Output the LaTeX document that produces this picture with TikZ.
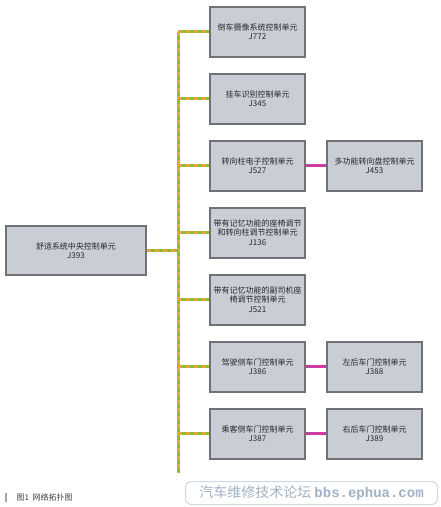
\documentclass[tikz,border=0pt]{standalone}
\usepackage{fontspec}
\setmainfont{Noto Sans CJK SC}
\newfontfamily\markfont{Liberation Mono}
\usetikzlibrary{positioning,shadows}
\definecolor{boxfill}{RGB}{201,206,214}
\definecolor{boxline}{RGB}{112,114,118}
\definecolor{busgreen}{RGB}{140,190,40}
\definecolor{busorange}{RGB}{225,165,70}
\definecolor{linkpink}{RGB}{205,60,165}
\definecolor{markblue}{RGB}{160,178,196}

\begin{document}
\begin{tikzpicture}[x=1pt,y=-1pt,node distance=15pt and 20pt,
  ecu/.style={draw=boxline,line width=2pt,fill=boxfill,minimum width=95pt,minimum height=50pt,inner sep=1pt,align=center,font=\fontsize{8}{9.5}\selectfont,text=black!85,drop shadow={opacity=0.2,shadow xshift=1pt,shadow yshift=-1pt}},
  bus/.style={line width=3pt,draw=busgreen,postaction={draw=busorange,line width=3pt,dash pattern=on 4pt off 4pt}},
  link/.style={line width=3pt,draw=linkpink}]

            \useasboundingbox[fill=white] (0,0) rectangle (441,507);

            % left column of units on the bus
            \node[ecu] (j772) at (257.5,31.5) {倒车摄像系统控制单元\\J772};
            \node[ecu] (j345) [below=of j772] {挂车识别控制单元\\J345};
            \node[ecu] (j527) [below=of j345] {转向柱电子控制单元\\J527};
            \node[ecu] (j136) [below=of j527] {带有记忆功能的座椅调节\\和转向柱调节控制单元\\J136};
            \node[ecu] (j521) [below=of j136] {带有记忆功能的副司机座\\椅调节控制单元\\J521};
            \node[ecu] (j386) [below=of j521] {驾驶侧车门控制单元\\J386};
            \node[ecu] (j387) [below=of j386] {乘客侧车门控制单元\\J387};

            % right column
            \node[ecu] (j453) [right=of j527] {多功能转向盘控制单元\\J453};
            \node[ecu] (j388) [right=of j386] {左后车门控制单元\\J388};
            \node[ecu] (j389) [right=of j387] {右后车门控制单元\\J389};

            % central unit
            \node[ecu,minimum width=140pt,minimum height=49pt] (j393) at (76,250.5) {舒适系统中央控制单元\\J393};

            % bus
            \coordinate (bustop) at (178,31.5);
            \coordinate (busend) at (178,472);
            \draw[bus] (bustop) -- (busend);
            \foreach \n in {j772,j345,j527,j136,j521,j386,j387}
                \draw[bus] (\n.west -| bustop) -- (\n.west);
            \draw[bus] (j393.east) -- (j393.east -| bustop);

            % sub bus
            \draw[link] (j527) -- (j453);
            \draw[link] (j386) -- (j388);
            \draw[link] (j387) -- (j389);

            % caption
            \node[fill=gray!70,minimum width=1.5pt,minimum height=9pt,inner sep=0pt] (bar) at (6,497) {};
            \node[anchor=west,font=\fontsize{8}{9}\selectfont,text=black!75] (cap) at (13,497) {图1\ \ 网络拓扑图};

            % site mark
            \node[draw=markblue!50,rounded corners=6pt,line width=1pt,minimum width=252pt,minimum height=23pt,inner sep=0pt] (mark) at (311.5,493) {};
            \node[text=markblue,font=\fontsize{14}{14}\selectfont] (marktxt) at (mark) {汽车维修技术论坛 {\markfont\bfseries bbs.ephua.com}};

        \end{tikzpicture}
\end{document}
